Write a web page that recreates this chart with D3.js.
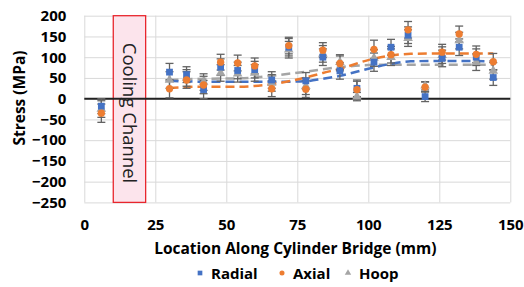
<!DOCTYPE html>
<html>
<head>
<meta charset="utf-8">
<script src="https://cdn.jsdelivr.net/npm/d3@7"></script>
<style>
  html, body { margin: 0; padding: 0; background: #fff; }
  svg { display: block; }
</style>
</head>
<body>
<div id="chart"></div>
<script>
// stress along cylinder bridge

const locations = [6, 30, 36, 42, 48, 54, 60, 66, 72, 78, 84, 90, 96, 102, 108, 114, 120, 126, 132, 138, 144];
const radial    = [-18, 64, 58, 22, 76, 68, 70, 45, 124, 43, 100, 67, 25, 88, 124, 153, 5, 97, 124, 100, 51];
const axial     = [-35, 24, 45, 33, 88, 86, 79, 24, 128, 23, 117, 85, 22, 119, 106, 166, 28, 112, 156, 107, 89];
const hoop      = [-25, 45, 50, 40, 62, 60, 62, 38, 118, 30, 108, 88, 5, 98, 100, 146, 31, 105, 140, 88, 67];
const errRadial = [18, 21, 19, 22, 20, 20, 20, 20, 21, 20, 20, 20, 20, 22, 19, 20, 12, 20, 20, 20, 19];
const errAxial  = [22, 22, 20, 21, 19, 19, 19, 19, 20, 20, 18, 18, 20, 22, 20, 20, 12, 19, 19, 20, 20];
const errHoop   = [20, 20, 20, 20, 20, 20, 20, 20, 20, 20, 20, 18, 10, 20, 20, 20, 10, 20, 20, 20, 20];

// trendlines
const trendX      = [30, 42, 54, 66, 72, 78, 84, 90, 100, 108, 115, 125, 135, 144];
const trendRadial = [43, 41, 41, 41, 41, 42, 48, 55, 72, 84, 90, 91, 91, 90];
const trendAxial  = [26, 29, 29, 35, 42, 51, 62, 72, 93, 104, 108, 109, 109, 109];
const trendHoop   = [45, 48, 49, 55, 60, 65, 71, 76, 81, 82, 82, 82, 82, 82];

const xTicks = [0, 25, 50, 75, 100, 125, 150];
const yTicks = [200, 150, 100, 50, 0, -50, -100, -150, -200, -250];
const channel = [10.2, 21.6];

const COLORS = { radial: '#4472C4', axial: '#ED7D31', hoop: '#A5A5A5' };
const FONT = "'Open Sans', sans-serif";

const W = 524, H = 287;
const ml = 84.3, mr = 13.7, mt = 15.7, mb = 84.6;
const iw = W - ml - mr, ih = H - mt - mb;

const svg = d3.select('#chart').append('svg')
  .attr('width', W).attr('height', H);

const g = svg.append('g').attr('transform', `translate(${ml},${mt})`);

const x = d3.scaleLinear().domain([0, 150]).range([0, iw]);
const y = d3.scaleLinear().domain([-250, 200]).range([ih, 0]);

// Grid
g.append('g')
  .call(d3.axisLeft(y).tickValues(yTicks).tickSize(-iw).tickFormat(''))
  .call(a => a.select('.domain').remove())
  .call(a => a.selectAll('.tick line').attr('stroke', '#d9d9d9').attr('stroke-width', 1));

g.append('g')
  .attr('transform', `translate(0,${ih})`)
  .call(d3.axisBottom(x).tickValues(xTicks).tickSize(-ih).tickFormat(''))
  .call(a => a.select('.domain').remove())
  .call(a => a.selectAll('.tick line').attr('stroke', '#d9d9d9').attr('stroke-width', 1));

// Tick labels
g.append('g')
  .call(d3.axisLeft(y).tickValues(yTicks).tickSize(0).tickPadding(18))
  .call(a => a.select('.domain').remove())
  .call(a => a.selectAll('.tick text')
    .attr('fill', '#000').attr('font-size', '15px').attr('font-weight', 'bold')
    .attr('font-family', FONT));

g.append('g')
  .attr('transform', `translate(0,${ih})`)
  .call(d3.axisBottom(x).tickValues(xTicks).tickSize(0).tickPadding(17))
  .call(a => a.select('.domain').remove())
  .call(a => a.selectAll('.tick text')
    .attr('fill', '#000').attr('font-size', '15px').attr('font-weight', 'bold')
    .attr('font-family', FONT));

// Cooling channel
g.append('rect')
  .attr('x', x(channel[0])).attr('y', 0)
  .attr('width', x(channel[1]) - x(channel[0]))
  .attr('height', ih)
  .attr('fill', '#FCE4EC')
  .attr('stroke', '#E8262D').attr('stroke-width', 1.3);

g.append('text')
  .attr('transform', `translate(${x((channel[0] + channel[1]) / 2)},${y(-25) + 4}) rotate(90)`)
  .attr('text-anchor', 'middle')
  .attr('dy', '0.35em')
  .attr('font-size', '18.5px')
  .attr('font-family', FONT)
  .attr('fill', '#222')
  .text('Cooling Channel');

// Zero line
g.append('line')
  .attr('x1', 0).attr('x2', iw)
  .attr('y1', y(0)).attr('y2', y(0))
  .attr('stroke', '#222').attr('stroke-width', 2);

// Trendlines
const line = d3.line().curve(d3.curveMonotoneX);
[
  { vals: trendHoop,   color: COLORS.hoop },
  { vals: trendRadial, color: COLORS.radial },
  { vals: trendAxial,  color: COLORS.axial }
].forEach(t => {
  g.append('path')
    .attr('d', line(trendX.map((d, i) => [x(d), y(t.vals[i])])))
    .attr('fill', 'none')
    .attr('stroke', t.color)
    .attr('stroke-width', 2.5)
    .attr('stroke-dasharray', '9,5');
});

// Error bars + markers
const series = [
  { key: 'hoop',   vals: hoop,   err: errHoop },
  { key: 'radial', vals: radial, err: errRadial },
  { key: 'axial',  vals: axial,  err: errAxial }
];

series.forEach(s => {
  const eb = g.append('g');
  locations.forEach((loc, i) => {
    const cx = x(loc), y1 = y(s.vals[i] + s.err[i]), y2 = y(s.vals[i] - s.err[i]);
    eb.append('line').attr('x1', cx).attr('x2', cx).attr('y1', y1).attr('y2', y2);
    eb.append('line').attr('x1', cx - 4).attr('x2', cx + 4).attr('y1', y1).attr('y2', y1);
    eb.append('line').attr('x1', cx - 4).attr('x2', cx + 4).attr('y1', y2).attr('y2', y2);
  });
  eb.attr('stroke', '#636363').attr('stroke-width', 1.3);
});

const sym = {
  radial: d3.symbol().type(d3.symbolSquare).size(46),
  axial:  d3.symbol().type(d3.symbolCircle).size(42),
  hoop:   d3.symbol().type(d3.symbolTriangle).size(40)
};

series.forEach(s => {
  g.selectAll(`.m-${s.key}`)
    .data(locations.map((loc, i) => ({ loc, v: s.vals[i] })))
    .enter()
    .append('path')
    .attr('transform', d => `translate(${x(d.loc)},${y(d.v)})`)
    .attr('d', sym[s.key])
    .attr('fill', COLORS[s.key]);
});

// Axis titles
svg.append('text')
  .attr('x', ml + iw / 2 - 2).attr('y', 254)
  .attr('text-anchor', 'middle')
  .attr('font-size', '15.5px').attr('font-weight', 'bold')
  .attr('font-family', FONT)
  .text('Location Along Cylinder Bridge (mm)');

svg.append('text')
  .attr('transform', `translate(25,98) rotate(-90)`)
  .attr('text-anchor', 'middle')
  .attr('font-size', '15.5px').attr('font-weight', 'bold')
  .attr('font-family', FONT)
  .text('Stress (MPa)');

// Legend
const legend = [
  { key: 'radial', label: 'Radial', x: 200 },
  { key: 'axial',  label: 'Axial',  x: 282 },
  { key: 'hoop',   label: 'Hoop',   x: 348 }
];
const legSym = {
  radial: d3.symbol().type(d3.symbolSquare).size(22),
  axial:  d3.symbol().type(d3.symbolCircle).size(20),
  hoop:   d3.symbol().type(d3.symbolTriangle).size(18)
};
legend.forEach(l => {
  svg.append('path')
    .attr('transform', `translate(${l.x},273)`)
    .attr('d', legSym[l.key])
    .attr('fill', COLORS[l.key]);
  svg.append('text')
    .attr('x', l.x + 11).attr('y', 278.5)
    .attr('font-size', '15px').attr('font-weight', 'bold')
    .attr('font-family', FONT)
    .text(l.label);
});
</script>
</body>
</html>
